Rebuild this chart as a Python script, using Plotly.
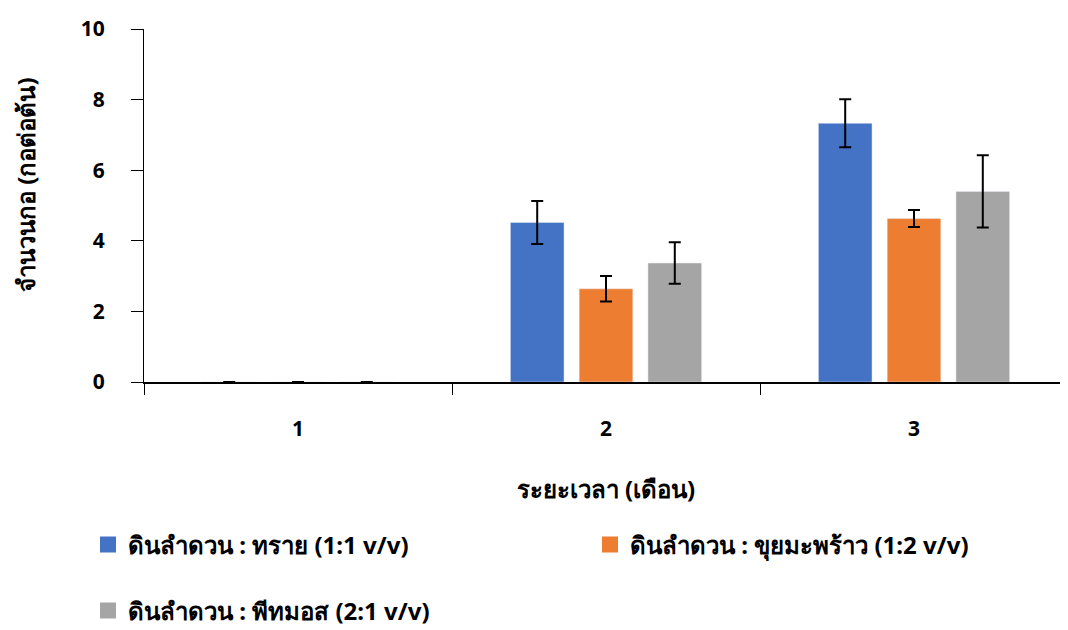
import plotly.graph_objects as go

months = ["1", "2", "3"]
series_names = [
    "ดินลำดวน : ทราย (1:1 v/v)",
    "ดินลำดวน : ขุยมะพร้าว (1:2 v/v)",
    "ดินลำดวน : พีทมอส (2:1 v/v)",
]
sand = [0, 4.52, 7.33]
sand_err = [0, 0.61, 0.68]
coco = [0, 2.64, 4.63]
coco_err = [0, 0.36, 0.24]
peat = [0, 3.37, 5.40]
peat_err = [0, 0.59, 1.02]
colors = ["#4472C4", "#ED7D31", "#A5A5A5"]

FONT = "Noto Sans, Tahoma, sans-serif"
# page body has an 8px margin; figure is sized so that it fills the 1068x630 window
W, H, OFF = 1060, 622, 8

fig = go.Figure()
vals = [sand, coco, peat]
errs = [sand_err, coco_err, peat_err]
legends = ["legend", "legend2", "legend3"]
for name, v, e, c in zip(series_names, vals, errs, colors):
    fig.add_trace(go.Bar(
        x=months, y=v, name=name, marker_color=c,
        error_y=dict(type="data", array=e, color="black", thickness=2, width=6),
        showlegend=False,
    ))
for name, c, lg in zip(series_names, colors, legends):
    fig.add_trace(go.Scatter(
        x=[None], y=[None], mode="markers", name=name,
        marker=dict(symbol="square", size=20, color=c),
        legend=lg, showlegend=True,
    ))

def legend_at(px, py):
    return dict(
        orientation="h", xref="container", yref="container",
        x=(px - OFF) / W, xanchor="left", y=(H - (py - OFF)) / H, yanchor="middle",
        font=dict(size=24, family=FONT, weight="bold"),
        bgcolor="rgba(0,0,0,0)",
    )

fig.update_layout(
    width=W, height=H,
    paper_bgcolor="white", plot_bgcolor="white",
    margin=dict(l=144 - OFF, r=0, t=29 - OFF, b=H - (382 - OFF), autoexpand=False),
    barmode="group", bargap=0.33, bargroupgap=0.22,
    font=dict(family=FONT, color="black"),
    xaxis=dict(
        range=[-0.5, 2.5], showline=True, linecolor="black", linewidth=2,
        ticks="outside", ticklen=11, tickcolor="black", tickwidth=1,
        tickson="boundaries", showgrid=False, zeroline=False,
        tickfont=dict(size=21, family=FONT, weight="bold"),
        ticklabelstandoff=27,
        title=dict(text="<b>ระยะเวลา (เดือน)</b>", font=dict(size=24), standoff=40),
    ),
    yaxis=dict(
        range=[0, 10], dtick=2, showline=True, linecolor="black", linewidth=1,
        ticks="outside", ticklen=12, tickcolor="black",
        showgrid=False, zeroline=False,
        tickfont=dict(size=21, family=FONT, weight="bold"),
        ticklabelstandoff=22,
    ),
    legend=legend_at(88, 545),
    legend2=legend_at(590, 545),
    legend3=legend_at(88, 611),
    annotations=[dict(
        text="<b>จำนวนกอ (กอต่อต้น)</b>", xref="paper", yref="paper",
        x=(25 - 144) / 924, y=(382 - 185) / 353, textangle=-90,
        showarrow=False, font=dict(size=24, family=FONT),
        xanchor="center", yanchor="middle",
    )],
)

fig.write_html("out.html")
